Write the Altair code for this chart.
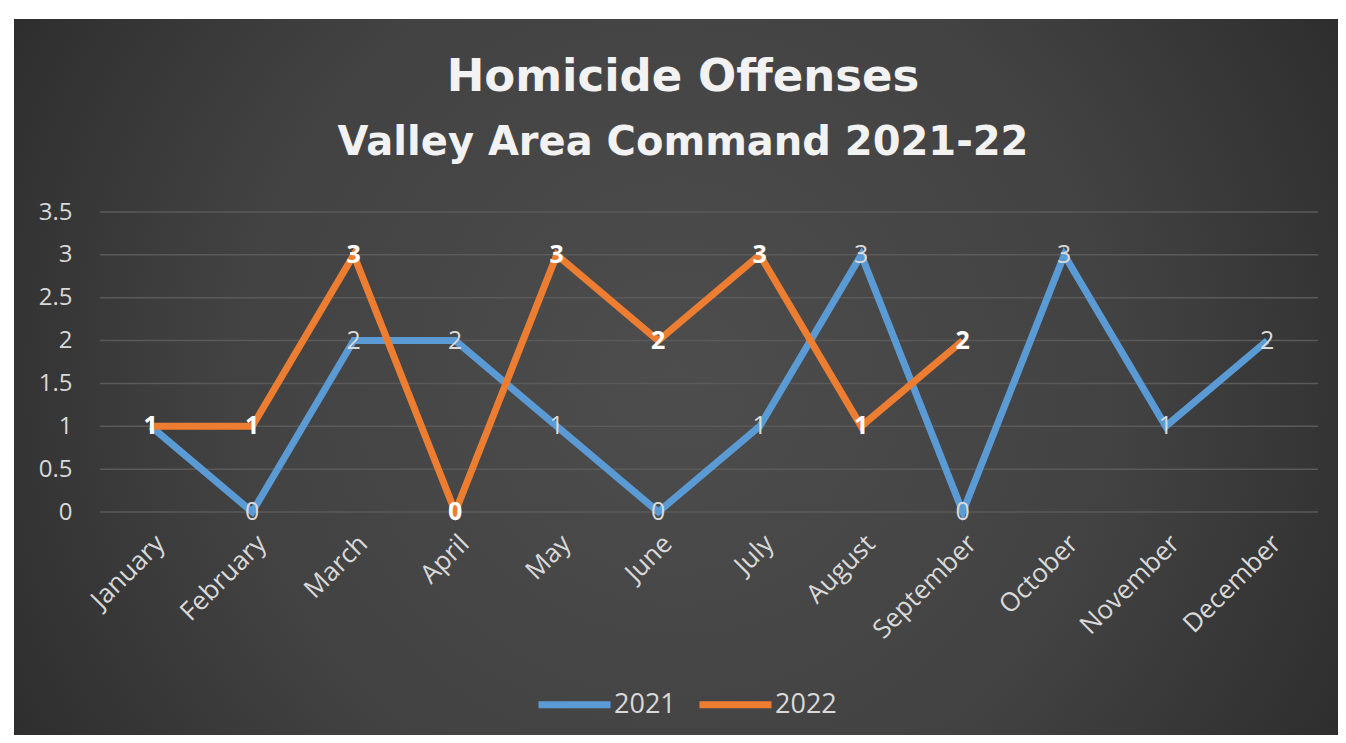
import altair as alt
import pandas as pd

months = ["January", "February", "March", "April", "May", "June", "July",
          "August", "September", "October", "November", "December"]
values_2021 = [1, 0, 2, 2, 1, 0, 1, 3, 0, 3, 1, 2]
values_2022 = [1, 1, 3, 0, 3, 2, 3, 1, 2]
years = ["2021", "2022"]
year_colors = ["#5b9bd5", "#ed7d31"]
y_ticks = [0, 0.5, 1, 1.5, 2, 2.5, 3, 3.5]
title_text = "Homicide Offenses"
subtitle_text = "Valley Area Command 2021-22"

rows = []
for m, v in zip(months, values_2021):
    rows.append({"Month": m, "Year": "2021", "Value": v})
for m, v in zip(months, values_2022):
    rows.append({"Month": m, "Year": "2022", "Value": v})
df = pd.DataFrame(rows)

W, H = 1218, 300
FONT = "Open Sans"
TFONT = "DejaVu Sans"

y_scale = alt.Scale(domain=[0, 3.5], nice=False, zero=True)
y_axis = alt.Axis(title=None, values=y_ticks, format="~g", labelFontSize=24,
                  labelColor="#d9d9d9", labelFont=FONT, labelPadding=28,
                  domain=False, ticks=False, grid=False, zindex=1)
x_enc = alt.X("Month:N", sort=months, scale=alt.Scale(padding=0.5),
              axis=alt.Axis(title=None, labelAngle=-45, labelFontSize=26,
                            labelColor="#d9d9d9", labelFont=FONT, labelPadding=18,
                            domain=False, ticks=False, grid=False, labelOverlap=False,
                            zindex=1))
y_enc = alt.Y("Value:Q", scale=y_scale, axis=y_axis)

bg = alt.Chart(pd.DataFrame({"bg": [0]})).mark_rect(
    fill=alt.RadialGradient(
        gradient="radial",
        stops=[alt.GradientStop(offset=0, color="#4d4d4d"),
               alt.GradientStop(offset=0.45, color="#424242"),
               alt.GradientStop(offset=1, color="#1e1e1e")],
        x1=0.5, y1=0.5, r1=0, x2=0.5, y2=0.5, r2=0.75),
).encode(x=alt.value(-86), x2=alt.value(1238), y=alt.value(-193), y2=alt.value(523))

grid = alt.Chart(pd.DataFrame({"tick": y_ticks})).mark_rule(
    color="#5a5a5a", strokeWidth=1.5
).encode(y=alt.Y("tick:Q", scale=y_scale, axis=y_axis))

lines = alt.Chart(df).mark_line(strokeWidth=7, strokeJoin="miter").encode(
    x=x_enc, y=y_enc,
    color=alt.Color("Year:N", scale=alt.Scale(domain=years, range=year_colors),
                    legend=alt.Legend(orient="none", legendX=435, legendY=453,
                                      direction="horizontal", title=None,
                                      symbolType="stroke", symbolSize=5184,
                                      symbolStrokeWidth=7, labelFontSize=27,
                                      labelColor="#d9d9d9", labelFont=FONT,
                                      columnPadding=9, labelOffset=0)),
    detail="Year:N",
)

labels_2021 = alt.Chart(df).transform_filter(alt.datum.Year == "2021").mark_text(
    fontSize=25, font=FONT, color="#d9d9d9", align="center", baseline="middle"
).encode(x=alt.X("Month:N", sort=months), y=alt.Y("Value:Q", scale=y_scale, axis=y_axis),
         text="Value:Q")

labels_2022 = alt.Chart(df).transform_filter(alt.datum.Year == "2022").mark_text(
    fontSize=25, font=FONT, fontWeight="bold", color="#ffffff", align="center", baseline="middle"
).encode(x=alt.X("Month:N", sort=months), y=alt.Y("Value:Q", scale=y_scale, axis=y_axis),
         text="Value:Q")

chart = alt.layer(bg, grid, lines, labels_2021, labels_2022).properties(
    width=W, height=H,
    autosize=alt.AutoSizeParams(type="none"),
    padding={"left": 92, "top": 204, "right": 20, "bottom": 223},
    title=alt.Title(text=title_text, subtitle=subtitle_text, fontSize=45,
                    subtitleFontSize=40, font=TFONT, subtitleFont=TFONT,
                    fontWeight="bold", subtitleFontWeight="bold",
                    color="#f2f2f2", subtitleColor="#f2f2f2",
                    anchor="middle", frame="group", dx=-26, offset=-144,
                    subtitlePadding=23),
).configure(background="#ffffff").configure_view(stroke=None)

chart.save("out.html", embed_options={"renderer": "svg", "actions": False})
